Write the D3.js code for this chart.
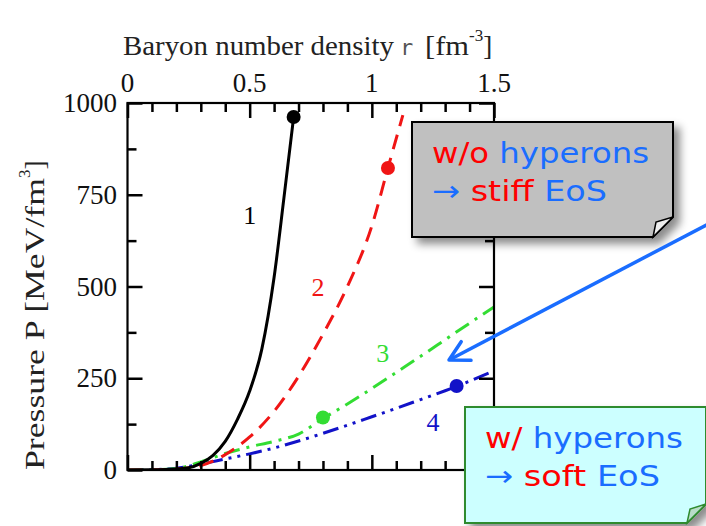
<!DOCTYPE html>
<html>
<head>
<meta charset="utf-8">
<script src="https://cdn.jsdelivr.net/npm/d3@7"></script>
<style>
  body { margin: 0; background: #fff; }
  svg { display: block; }
  .serif { font-family: "Liberation Serif", "Times New Roman", serif; }
  .note { font-family: "DejaVu Sans", Verdana, sans-serif; }
</style>
</head>
<body>
<div id="chart"></div>
<script>
// baryon density (fm^-3) and pressure (MeV/fm^3)
const densityLong = [0, 0.1, 0.2, 0.3, 0.4, 0.5, 0.6, 0.7, 0.8, 0.9, 1.0, 1.1, 1.2, 1.3, 1.4, 1.5];

const curve1X = [0, 0.1, 0.2, 0.25, 0.3, 0.35, 0.4, 0.45, 0.5, 0.55, 0.6, 0.64, 0.68];
const curve1P = [0, 0.5, 3, 6, 18, 40, 78, 138, 215, 330, 525, 740, 962];

const curve2X = [0, 0.1, 0.2, 0.3, 0.4, 0.5, 0.6, 0.7, 0.8, 0.9, 1.0, 1.066, 1.127];
const curve2P = [0, 0.5, 3, 12, 42, 90, 160, 255, 370, 500, 665, 823, 967];

const curve3P = [0, 0.5, 4, 22, 45, 63, 78, 98, 140, 180, 222, 266, 310, 355, 400, 444];
const curve4P = [0, 1, 5, 16, 30, 44, 60, 79, 100, 122, 145, 168, 192, 216, 242, 270];

// maximum-mass points
const dotX = [0.68, 1.066, 0.8, 1.347];
const dotP = [962, 823, 143, 229];

// curve numbers
const labelText = ["1", "2", "3", "4"];
const labelX = [0.5, 0.78, 1.045, 1.25];
const labelP = [695, 499, 319, 131];

const xTicks = [0, 0.5, 1, 1.5];
const xTickLabels = ["0", "0.5", "1", "1.5"];
const yTicks = [0, 250, 500, 750, 1000];
const xMinor = [0.1, 0.2, 0.3, 0.4, 0.6, 0.7, 0.8, 0.9, 1.1, 1.2, 1.3, 1.4];
const yMinor = [125, 375, 625, 875];

const width = 706, height = 526;
const pLeft = 127.5, pRight = 494, pTop = 103, pBottom = 470;

const x = d3.scaleLinear().domain([0, 1.5]).range([pLeft, pRight]);
const y = d3.scaleLinear().domain([0, 1000]).range([pBottom, pTop]);

const svg = d3.select("#chart").append("svg")
    .attr("width", width)
    .attr("height", height);

const defs = svg.append("defs");
defs.append("filter").attr("id", "shadow")
    .attr("x", "-10%").attr("y", "-10%").attr("width", "130%").attr("height", "140%")
  .append("feDropShadow")
    .attr("dx", 6).attr("dy", 6).attr("stdDeviation", 4)
    .attr("flood-color", "#000").attr("flood-opacity", 0.45);

// curves
const series = [
  { xs: curve1X, ps: curve1P, color: "#000000", dash: null },
  { xs: curve2X, ps: curve2P, color: "#f01515", dash: "15,9" },
  { xs: densityLong, ps: curve3P, color: "#33dd33", dash: "16,7,3,7" },
  { xs: densityLong, ps: curve4P, color: "#1212c8", dash: "16,6,3,6,3,6" }
];

const line = d3.line()
    .x(d => x(d[0]))
    .y(d => y(d[1]))
    .curve(d3.curveMonotoneX);

const plot = svg.append("g");
defs.append("clipPath").attr("id", "clip")
  .append("rect").attr("x", pLeft).attr("y", pTop)
    .attr("width", pRight - pLeft).attr("height", pBottom - pTop);

series.slice().reverse().forEach(s => {
  plot.append("path")
      .datum(s.xs.map((v, i) => [v, s.ps[i]]))
      .attr("clip-path", "url(#clip)")
      .attr("fill", "none")
      .attr("stroke", s.color)
      .attr("stroke-width", 3)
      .attr("stroke-dasharray", s.dash)
      .attr("d", line);
});

plot.selectAll("circle.dot")
  .data(dotX.map((v, i) => ({ x: v, p: dotP[i], c: series[i].color })))
  .join("circle")
    .attr("class", "dot")
    .attr("cx", d => x(d.x))
    .attr("cy", d => y(d.p))
    .attr("r", 7)
    .attr("fill", d => d.c);

plot.selectAll("text.num")
  .data(labelText)
  .join("text")
    .attr("class", "num serif")
    .attr("x", (d, i) => x(labelX[i]))
    .attr("y", (d, i) => y(labelP[i]) + 9)
    .attr("text-anchor", "middle")
    .attr("font-size", 26)
    .attr("fill", (d, i) => series[i].color)
    .text(d => d);

svg.append("g").selectAll("text").data(xTicks).join("text")
    .attr("class", "serif")
    .attr("x", d => x(d)).attr("y", 92)
    .attr("text-anchor", "middle").attr("font-size", 27).attr("fill", "#111")
    .text((d, i) => xTickLabels[i]);

svg.append("g").selectAll("text").data(yTicks).join("text")
    .attr("class", "serif")
    .attr("x", 117).attr("y", d => y(d) + 9)
    .attr("text-anchor", "end").attr("font-size", 27).attr("fill", "#111")
    .text(d => d3.format("d")(d));

svg.append("rect")
    .attr("x", pLeft).attr("y", pTop)
    .attr("width", pRight - pLeft).attr("height", pBottom - pTop)
    .attr("fill", "none").attr("stroke", "#000").attr("stroke-width", 2.2);

// axis titles
const xt = svg.append("text").attr("class", "serif")
    .attr("x", 123).attr("y", 55)
    .attr("font-size", 27).attr("fill", "#222");
xt.append("tspan").attr("textLength", 271).attr("lengthAdjust", "spacingAndGlyphs")
    .text("Baryon number density");
xt.append("tspan").attr("x", 400).attr("font-family", "DejaVu Sans Mono, monospace")
    .attr("font-size", 22).attr("fill", "#555").text("r");
xt.append("tspan").attr("x", 425).attr("textLength", 44).attr("lengthAdjust", "spacingAndGlyphs")
    .text("[fm");
xt.append("tspan").attr("dy", -14).attr("font-size", 17).text("-3");
xt.append("tspan").attr("dy", 14).text("]");

const yt = svg.append("text").attr("class", "serif")
    .attr("transform", "translate(44,470) rotate(-90)")
    .attr("font-size", 27).attr("fill", "#222");
yt.append("tspan").attr("textLength", 292).attr("lengthAdjust", "spacingAndGlyphs")
    .text("Pressure P [MeV/fm");
yt.append("tspan").attr("dy", -14).attr("font-size", 17).text("3");
yt.append("tspan").attr("dy", 14).text("]");

// inward ticks on all four sides, drawn with d3 axes; the notes sit on top of them
function tickAxis(axis, tx, ty, vals, len) {
  svg.append("g")
      .attr("transform", `translate(${tx},${ty})`)
      .call(axis.tickValues(vals).tickSizeInner(-len).tickSizeOuter(0).tickFormat(() => ""))
      .call(g => g.select(".domain").remove())
      .call(g => g.selectAll(".tick line").attr("stroke", "#000").attr("stroke-width", 2.5));
}
[[xMinor, 9], [xTicks, 15]].forEach(([vals, len]) => {
  tickAxis(d3.axisTop(x), 0, pTop, vals, len);
  tickAxis(d3.axisBottom(x), 0, pBottom, vals, len);
});
[[yMinor, 9], [yTicks, 15]].forEach(([vals, len]) => {
  tickAxis(d3.axisLeft(y), pLeft, 0, vals, len);
  tickAxis(d3.axisRight(y), pRight, 0, vals, len);
});

// annotation notes
function note(x0, y0, x1, y1, fold, fill, stroke, foldFill, lines) {
  const g = svg.append("g");
  g.append("path")
      .attr("d", `M${x0},${y0}H${x1}V${y1 - fold}L${x1 - fold},${y1}H${x0}Z`)
      .attr("fill", fill).attr("stroke", stroke).attr("stroke-width", 2)
      .attr("filter", "url(#shadow)");
  g.append("path")
      .attr("d", `M${x1 - fold},${y1}L${x1 - fold + 3},${y1 - fold + 5}L${x1},${y1 - fold}Z`)
      .attr("fill", foldFill).attr("stroke", stroke).attr("stroke-width", 1.5);
  lines.forEach(parts => {
    const t = g.append("text").attr("class", "note")
        .attr("x", parts.x).attr("y", parts.y)
        .attr("font-size", 29)
        .attr("textLength", parts.w).attr("lengthAdjust", "spacingAndGlyphs");
    parts.spans.forEach(s => t.append("tspan").attr("fill", s[1]).text(s[0]));
  });
}

const red = "#ff0000", blue = "#1a6dff";

note(412, 122, 673, 237, 20, "#c0c0c0", "#000", "#eeeeee", [
  { x: 432, y: 163, w: 217, spans: [["w/o ", red], ["hyperons", blue]] },
  { x: 432, y: 201, w: 175, spans: [["\u2192 ", blue], ["stiff ", red], ["EoS", blue]] }
]);

// arrow
const arrowStart = [712, 222], arrowEnd = [449, 360];
svg.append("line")
    .attr("x1", arrowStart[0]).attr("y1", arrowStart[1])
    .attr("x2", arrowEnd[0] + 2).attr("y2", arrowEnd[1] - 1)
    .attr("stroke", blue).attr("stroke-width", 3.5);
const ang = Math.atan2(arrowStart[1] - arrowEnd[1], arrowStart[0] - arrowEnd[0]);
const ah = 22;
svg.append("path")
    .attr("d", `M${arrowEnd[0] + ah * Math.cos(ang + 0.5)},${arrowEnd[1] + ah * Math.sin(ang + 0.5)}` +
               `L${arrowEnd[0]},${arrowEnd[1]}` +
               `L${arrowEnd[0] + ah * Math.cos(ang - 0.5)},${arrowEnd[1] + ah * Math.sin(ang - 0.5)}`)
    .attr("fill", "none").attr("stroke", blue).attr("stroke-width", 3.5)
    .attr("stroke-linecap", "round").attr("stroke-linejoin", "round");

note(465, 407, 706, 523, 19, "#ccffff", "#2e8b2e", "#b8dcc8", [
  { x: 485, y: 448, w: 198, spans: [["w/ ", red], ["hyperons", blue]] },
  { x: 485, y: 486, w: 175, spans: [["\u2192 ", blue], ["soft ", red], ["EoS", blue]] }
]);
</script>
</body>
</html>
